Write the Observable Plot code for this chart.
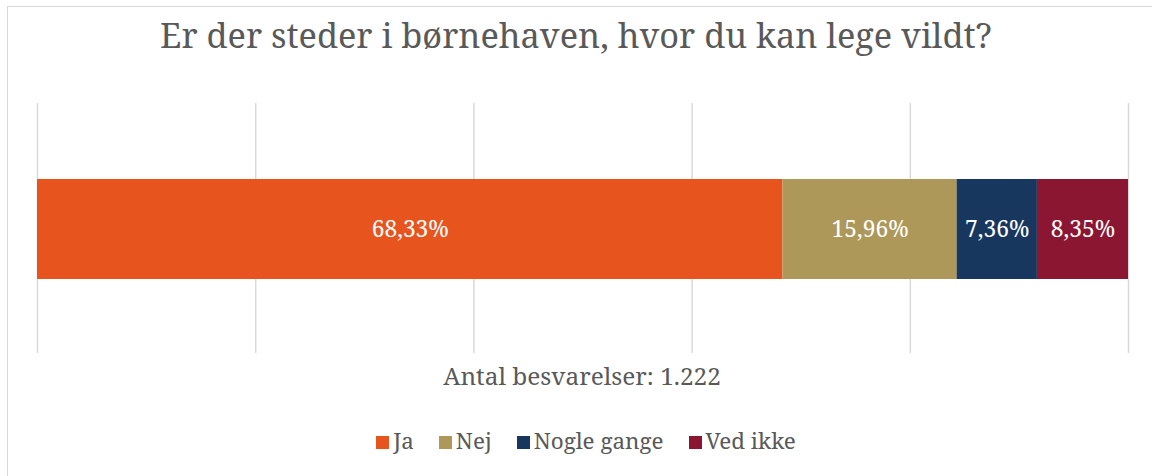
<!DOCTYPE html>
<html>
<head>
<meta charset="utf-8">
<script src="https://cdn.jsdelivr.net/npm/d3@7"></script>
<script src="https://cdn.jsdelivr.net/npm/@observablehq/plot@0.6"></script>
<style>
  html, body { margin: 0; padding: 0; background: #fff; overflow: hidden; }
  #root { position: relative; width: 1152px; height: 476px; overflow: hidden; font-family: "Noto Serif", "Liberation Serif", serif; color: #595959; }
  #frame { position: absolute; left: 7px; top: 6px; width: 1160px; height: 490px; border: 1.5px solid #d9d9d9; box-sizing: border-box; }
  #title { position: absolute; left: 0; width: 1152px; top: 10px; text-align: center; line-height: 50px; white-space: nowrap; }
  #chart { position: absolute; left: 0; top: 103px; }
  #caption { position: absolute; left: 6px; width: 1152px; top: 360px; text-align: center; line-height: 32px; white-space: nowrap; }
  #legend { position: absolute; left: 10px; width: 1152px; top: 425px; display: flex; justify-content: center; gap: 25px; line-height: 32px; white-space: nowrap; }
  .item { display: flex; align-items: center; }
  .sw { width: 13px; height: 13px; margin-right: 4px; margin-top: 2px; }
</style>
</head>
<body>
<div id="root">
  <div id="frame"></div>
  <div id="title"></div>
  <div id="chart"></div>
  <div id="caption"></div>
  <div id="legend"></div>
</div>
<script>
const titleText = "Er der steder i børnehaven, hvor du kan lege vildt?";
const captionText = "Antal besvarelser: 1.222";
const categories = ["Ja", "Nej", "Nogle gange", "Ved ikke"];
const values = [68.33, 15.96, 7.36, 8.35];
const valueLabels = ["68,33%", "15,96%", "7,36%", "8,35%"];
const colors = ["#E8541E", "#AD985A", "#17375E", "#8B1632"];
const gridTicks = [0, 20, 40, 60, 80, 100];

const FONT = '"Noto Serif"';
const ctx = document.createElement("canvas").getContext("2d");
function fit(text, target) {
  ctx.font = `100px ${FONT}`;
  return Math.round(1000 * target / ctx.measureText(text).width) / 10;
}
const titleSize = fit(titleText, 832);
const captionSize = fit(captionText, 278);
const legendSize = fit("Nogle gange", 130);
const labelSize = fit("68,33%", 77);

const data = categories.map((c, i) => ({category: c, value: values[i], label: valueLabels[i]}));

const titleEl = document.getElementById("title");
titleEl.textContent = titleText;
titleEl.style.fontSize = titleSize + "px";
const capEl = document.getElementById("caption");
capEl.textContent = captionText;
capEl.style.fontSize = captionSize + "px";

const chart = Plot.plot({
  width: 1152,
  height: 250,
  marginLeft: 37,
  marginRight: 24,
  marginTop: 0,
  marginBottom: 0,
  style: {fontFamily: "Noto Serif, serif", background: "transparent"},
  x: {domain: [0, 100], axis: null},
  y: {domain: ["q"], padding: 0, axis: null},
  color: {domain: categories, range: colors},
  marks: [
    Plot.ruleX(gridTicks, {stroke: "#d9d9d9", strokeWidth: 1.5, strokeOpacity: 1}),
    Plot.barX(data, Plot.stackX({x: "value", y: () => "q", fill: "category", order: null, insetTop: 76, insetBottom: 74})),
    Plot.text(data, Plot.stackX({x: "value", y: () => "q", text: "label", order: null, fill: "white", fontSize: labelSize, dy: 1}))
  ]
});
document.getElementById("chart").appendChild(chart);

const legend = document.getElementById("legend");
legend.style.fontSize = legendSize + "px";
categories.forEach((c, i) => {
  const item = document.createElement("div");
  item.className = "item";
  const sw = document.createElement("div");
  sw.className = "sw";
  sw.style.background = colors[i];
  const t = document.createElement("span");
  t.textContent = c;
  item.appendChild(sw);
  item.appendChild(t);
  legend.appendChild(item);
});
</script>
</body>
</html>
